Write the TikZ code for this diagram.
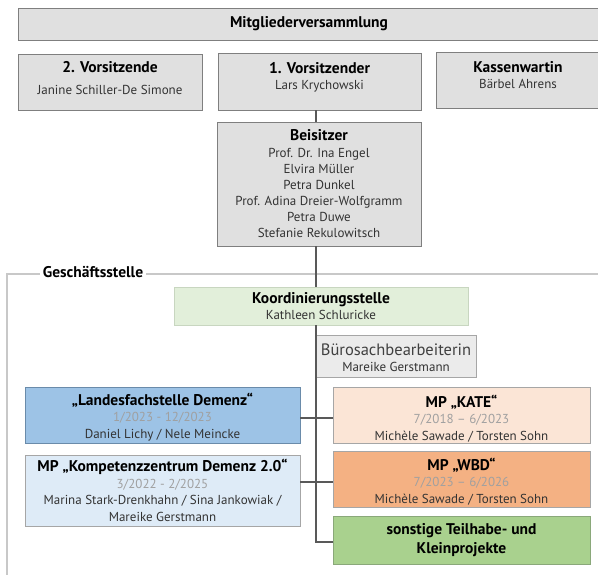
\documentclass[tikz,border=0pt]{standalone}
\usepackage{fontspec}
\setmainfont{PT Sans}
\usetikzlibrary{calc}
\definecolor{boxgray}{HTML}{E0E0E0}
\definecolor{bordgray}{HTML}{7F7F7F}
\definecolor{koordfill}{HTML}{E2EFDA}
\definecolor{koordbord}{HTML}{C8D6C0}
\definecolor{buerofill}{HTML}{EBEBEB}
\definecolor{landesfill}{HTML}{9DC3E6}
\definecolor{landesbord}{HTML}{6A8BAA}
\definecolor{katefill}{HTML}{FBE5D6}
\definecolor{kompfill}{HTML}{DEEBF7}
\definecolor{wbdfill}{HTML}{F4B183}
\definecolor{sonstfill}{HTML}{A9D18E}
\definecolor{sonstbord}{HTML}{8AA87A}
\definecolor{litebord}{HTML}{A6A6A6}
\definecolor{datecol}{HTML}{A0A0A0}
\definecolor{txtcol}{HTML}{333333}
\definecolor{buerotxt}{HTML}{404040}
\definecolor{linecol}{HTML}{595959}
\definecolor{framecol}{HTML}{C8C8C8}
\newcommand{\ttl}[1]{{\fontsize{15.5}{18}\selectfont\bfseries\color{black}#1}}
\newcommand{\dte}[1]{{\color{datecol}#1}}
\newcommand{\lead}[1]{\rule{0pt}{#1}}
\begin{document}
\begin{tikzpicture}[x=1pt,y=-1pt,
  orgbox/.style={draw=bordgray, fill=boxgray, line width=0.9pt, align=center, inner sep=0pt,
    text=txtcol, font=\fontsize{13}{16.5}\selectfont},
  conn/.style={draw=linecol, line width=1.4pt},
  framel/.style={draw=framecol, line width=1.4pt}]
\useasboundingbox (0,0) rectangle (598,574);
\coordinate (spine) at (316,0);

% frame
\node[fill=white, inner sep=3pt, font=\fontsize{15.5}{18}\selectfont\bfseries] (gs) at (93,272) {Geschäftsstelle};
\coordinate (frR) at (600,274);
\coordinate (frB) at (7,576);
\draw[framel] (frR) -- (gs.east |- frR);
\draw[framel] (gs.west |- frR) -- (frR -| frB) -- (frB);

% boxes
\node[orgbox, minimum width=582, minimum height=32] (mv) at (309,24) {\ttl{Mitgliederversammlung}};
\node[orgbox, minimum width=184, minimum height=56] (v2) at (110,82) {\ttl{2. Vorsitzende}\\[5.5pt]Janine Schiller-De Simone\\[-8.5pt]};
\node[orgbox, minimum width=203, minimum height=57] (v1) at (319.5,81.5) {\ttl{1. Vorsitzender}\\Lars Krychowski\\[-5.5pt]};
\node[orgbox, minimum width=164, minimum height=56] (kw) at (518,80) {\ttl{Kassenwartin}\\Bärbel Ahrens\\[-6.5pt]};
\node[orgbox, minimum width=204, minimum height=124, font=\fontsize{13}{16}\selectfont] (bei) at (319,184)
  {\ttl{Beisitzer}\\[1pt]Prof. Dr. Ina Engel\\Elvira Müller\\Petra Dunkel\\Prof. Adina Dreier-Wolfgramm\\Petra Duwe\\Stefanie Rekulowitsch};
\node[orgbox, draw=koordbord, fill=koordfill, minimum width=294, minimum height=38] (koord) at (321,306)
  {\ttl{Koordinierungsstelle}\\Kathleen Schluricke};
\node[orgbox, fill=buerofill, draw=litebord, minimum width=160, minimum height=42] (buero) at (396,356)
  {\lead{15pt}{\fontsize{16.5}{18}\selectfont\color{buerotxt}Bürosachbearbeiterin}\\Mareike Gerstmann};
\node[orgbox, fill=landesfill, draw=landesbord, minimum width=275, minimum height=56] (landes) at (162.5,415)
  {\lead{16.5pt}\ttl{„Landesfachstelle Demenz“}\\\dte{1/2023 - 12/2023}\\Daniel Lichy / Nele Meincke};
\node[orgbox, fill=katefill, draw=litebord, minimum width=257, minimum height=56] (kate) at (461.5,415)
  {\lead{19pt}\ttl{MP „KATE“}\\\dte{7/2018 – 6/2023}\\Michèle Sawade / Torsten Sohn};
\node[orgbox, fill=kompfill, draw=litebord, minimum width=275, minimum height=71] (komp) at (162.5,490.5)
  {\ttl{MP „Kompetenzzentrum Demenz 2.0“}\\\dte{3/2022 - 2/2025}\\Marina Stark-Drenkhahn / Sina Jankowiak /\\Mareike Gerstmann};
\node[orgbox, fill=wbdfill, draw=litebord, minimum width=257, minimum height=56] (wbd) at (461.5,479)
  {\lead{17pt}\ttl{MP „WBD“}\\\dte{7/2023 – 6/2026}\\Michèle Sawade / Torsten Sohn};
\node[orgbox, fill=sonstfill, draw=sonstbord, minimum width=257, minimum height=48, font=\fontsize{13}{19}\selectfont] (sonst) at (461.5,540)
  {\ttl{sonstige Teilhabe- und}\\\ttl{Kleinprojekte}};

% connectors
\draw[conn] (v1.south -| spine) -- (bei.north -| spine);
\draw[conn] (bei.south -| spine) -- (koord.north -| spine);
\draw[conn] (koord.south -| spine) |- ([yshift=-2]sonst.west);
\draw[conn] ([yshift=-3]landes.east) -- ([yshift=-3]kate.west);
\draw[conn] (wbd.west) ++(0,3) coordinate (wbdc) -- (wbdc -| komp.east);
\end{tikzpicture}
\end{document}
